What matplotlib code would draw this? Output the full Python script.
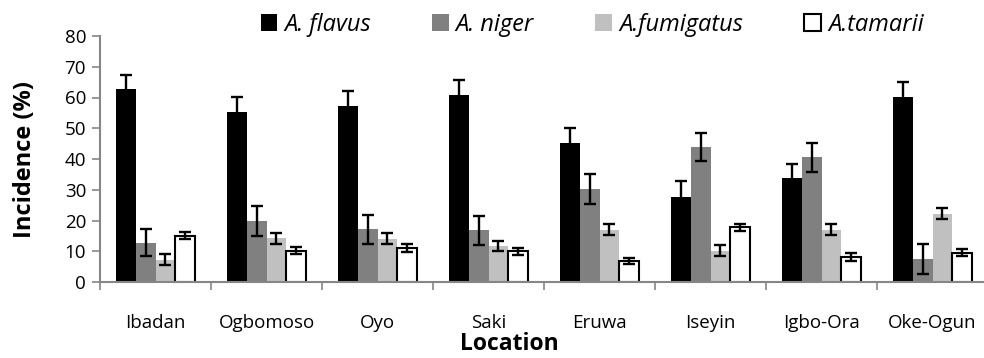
import numpy as np
import matplotlib.pyplot as plt
from matplotlib.ticker import FixedLocator

plt.rcParams['font.family'] = ['Open Sans', 'DejaVu Sans']

lokasi = ['Ibadan', 'Ogbomoso', 'Oyo', 'Saki', 'Eruwa', 'Iseyin', 'Igbo-Ora', 'Oke-Ogun']
spesies = ['A. flavus', 'A. niger', 'A.fumigatus', 'A.tamarii']

flavus = [62.7, 55.3, 57.3, 60.8, 45.1, 27.8, 33.7, 60.1]
niger = [12.8, 19.8, 17.1, 16.8, 30.3, 43.8, 40.5, 7.4]
fumigatus = [7.2, 14.2, 14.0, 11.7, 17.0, 10.2, 17.0, 22.2]
tamarii = [15.1, 10.2, 11.1, 10.0, 6.8, 17.8, 8.1, 9.5]

err_flavus = [4.7, 4.9, 4.9, 4.8, 5.0, 4.9, 4.8, 4.8]
err_niger = [4.5, 4.8, 4.7, 4.7, 4.8, 4.6, 4.7, 4.9]
err_fumigatus = [1.8, 1.7, 1.8, 1.7, 1.7, 1.7, 1.7, 1.8]
err_tamarii = [1.2, 1.2, 1.2, 1.2, 1.1, 1.2, 1.2, 1.1]

nilai = [flavus, niger, fumigatus, tamarii]
galat = [err_flavus, err_niger, err_fumigatus, err_tamarii]
warna = ['#000000', '#808080', '#c0c0c0', '#ffffff']
abu = '#868686'

fig = plt.figure(figsize=(9.84, 3.58), dpi=100)
ax = fig.add_axes([100/984, 1-282/358, 884/984, 246/358])

x = np.arange(len(lokasi))
lebar = 0.18
for i in range(4):
    pos = x + (i - 1.5) * lebar
    if i == 3:
        ax.bar(pos, nilai[i], lebar, color=warna[i], edgecolor='black', linewidth=1.5, label=spesies[i], zorder=2)
    else:
        ax.bar(pos, nilai[i], lebar, color=warna[i], linewidth=0, label=spesies[i], zorder=2)
    ax.errorbar(pos, nilai[i], yerr=galat[i], fmt='none', ecolor='black', elinewidth=1.7,
                capsize=4.5, capthick=1.7, zorder=3)

ax.set_ylim(0, 80)
ax.set_yticks(np.arange(0, 81, 10))
ax.set_xlim(-0.5, -0.5 + 884/111)
ax.set_xticks(x)
ax.set_xticklabels(lokasi, fontsize=13.5)
ax.xaxis.set_minor_locator(FixedLocator(np.arange(-0.5, 8, 1)))
ax.tick_params(axis='x', which='major', length=0, pad=23)
ax.tick_params(axis='x', which='minor', length=6, color=abu, width=1.2)
ax.tick_params(axis='y', length=6, color=abu, width=1.2, labelsize=13.5, pad=4)

for s in ['top', 'right']:
    ax.spines[s].set_visible(False)
for s in ['left', 'bottom']:
    ax.spines[s].set_color(abu)
    ax.spines[s].set_linewidth(1.5)

fig.text(25/984, 1-160/358, 'Incidence (%)', rotation=90, ha='center', va='center',
         fontsize=17, fontweight='bold')
fig.text(509/984, 1-344/358, 'Location', ha='center', va='center', fontsize=16.5, fontweight='bold')

leg = fig.legend(loc='center', bbox_to_anchor=(592/984, 1-25/358), ncol=4, frameon=False,
                 prop={'style': 'italic', 'size': 17}, handlelength=0.7, handleheight=0.7,
                 handletextpad=0.3, columnspacing=2.6)

plt.savefig('out.png', dpi=100)
